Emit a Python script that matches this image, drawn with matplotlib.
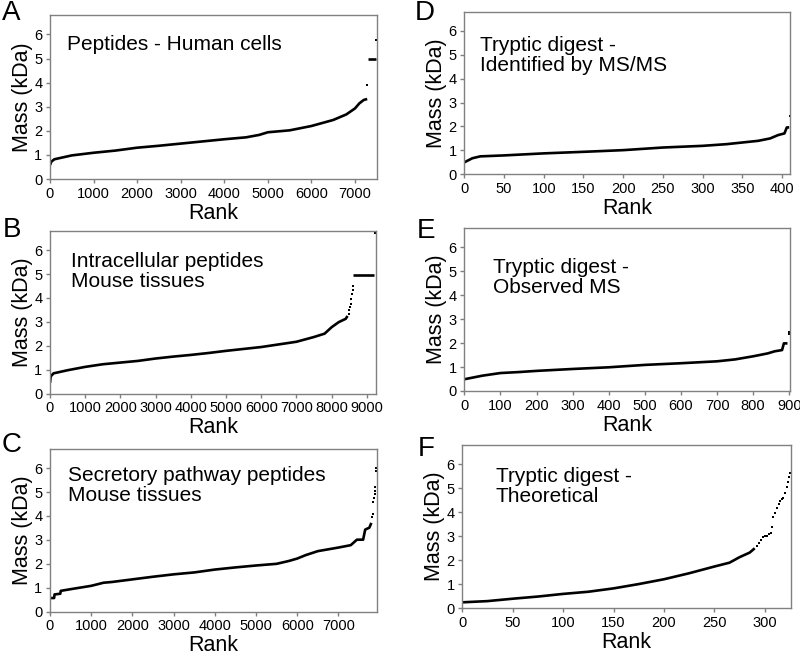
import matplotlib
matplotlib.use('Agg')
import matplotlib.pyplot as plt
import numpy as np

plt.rcParams['font.family'] = ['Liberation Sans', 'DejaVu Sans']

# --- data (rank, mass in kDa) ---
# A: Peptides - Human cells
a_rank = [0, 30, 100, 500, 1000, 1500, 2000, 2500, 3000, 3500, 4000, 4500, 4800, 5000,
          5500, 6000, 6500, 6800, 7000, 7100, 7200, 7280]
a_mass = [0.58, 0.72, 0.82, 0.98, 1.09, 1.18, 1.30, 1.38, 1.47, 1.56, 1.65, 1.73, 1.83, 1.94,
          2.02, 2.20, 2.45, 2.68, 2.93, 3.14, 3.28, 3.32]
a_top_rank = [7300, 7490]
a_top_mass = [4.98, 4.98]
a_pts_rank = [7285, 7480]
a_pts_mass = [3.90, 5.77]

# B: Intracellular peptides, mouse tissues
b_rank = [0, 20, 100, 500, 1000, 1500, 2000, 2500, 3000, 3500, 4000, 4500, 5000, 5500,
          6000, 6500, 7000, 7500, 7800, 8000, 8200, 8400, 8450]
b_mass = [0.45, 0.72, 0.85, 0.98, 1.12, 1.23, 1.30, 1.37, 1.47, 1.55, 1.62, 1.70, 1.79, 1.87,
          1.95, 2.06, 2.17, 2.37, 2.51, 2.78, 2.99, 3.13, 3.25]
b_top_rank = [8620, 9200]
b_top_mass = [4.95, 4.95]
b_pts_rank = [8480, 8500, 8520, 8540, 8560, 8580, 8600, 8610, 9230]
b_pts_mass = [3.35, 3.48, 3.62, 3.75, 3.95, 4.15, 4.35, 4.50, 6.73]

# C: Secretory pathway peptides, mouse tissues
c_rank = [0, 100, 110, 250, 260, 500, 1000, 1300, 1500, 2000, 2500, 3000, 3500, 4000,
          4500, 5000, 5500, 5800, 6000, 6200, 6500, 7000, 7300, 7450, 7600, 7650, 7750, 7800]
c_mass = [0.57, 0.57, 0.72, 0.75, 0.87, 0.94, 1.08, 1.21, 1.24, 1.35, 1.46, 1.56, 1.64, 1.76,
          1.85, 1.93, 2.00, 2.12, 2.22, 2.36, 2.53, 2.68, 2.78, 3.01, 3.01, 3.43, 3.51, 3.71]
c_pts_rank = [7820, 7830, 7850, 7860, 7880, 7890, 7900, 7915, 7920]
c_mass_pts = [3.95, 4.10, 4.60, 4.75, 4.90, 5.05, 5.20, 5.90, 6.00]

# D: Tryptic digest - identified by MS/MS
d_rank = [0, 10, 20, 50, 100, 150, 200, 250, 300, 330, 350, 370, 385, 395, 403, 406, 409]
d_mass = [0.50, 0.67, 0.75, 0.79, 0.875, 0.94, 1.01, 1.12, 1.19, 1.26, 1.33, 1.40, 1.50, 1.64,
          1.71, 1.96, 1.96]
d_pts_rank = [410]
d_pts_mass = [2.43]

# E: Tryptic digest - observed MS
e_rank = [0, 50, 100, 150, 200, 300, 400, 500, 600, 700, 750, 800, 840, 860, 880, 885, 895]
e_mass = [0.49, 0.64, 0.75, 0.79, 0.84, 0.92, 0.99, 1.09, 1.16, 1.24, 1.32, 1.45, 1.57, 1.66,
          1.71, 1.99, 1.99]
e_pts_rank = [899, 900]
e_pts_mass = [2.40, 2.48]

# F: Tryptic digest - theoretical
f_rank = [0, 25, 50, 75, 100, 125, 150, 175, 200, 225, 250, 265, 275, 285, 290]
f_mass = [0.25, 0.30, 0.40, 0.49, 0.60, 0.69, 0.83, 1.01, 1.21, 1.46, 1.74, 1.90, 2.13, 2.32, 2.50]
f_pts_rank = [292, 294, 296, 298, 300, 302, 304, 306, 307, 308, 310, 312, 314, 315, 317, 318,
              320, 322, 323, 324, 325]
f_pts_mass = [2.60, 2.70, 2.85, 2.95, 2.99, 3.03, 3.08, 3.15, 3.38, 3.79, 3.95, 4.17, 4.35, 4.47,
              4.55, 4.61, 4.80, 5.07, 5.25, 5.45, 5.63]

GRAY = '#808080'


def setup(ax, xmax, xticks, label_lines, tx, ty):
    ax.set_xlim(0, xmax)
    ax.set_ylim(0, 6.8)
    ax.set_xticks(xticks)
    ax.set_yticks(range(7))
    for s in ax.spines.values():
        s.set_color(GRAY)
        s.set_linewidth(1.0)
    ax.tick_params(direction='out', length=3, width=1, color=GRAY, labelsize=10.5, pad=2.5)
    ax.set_xlabel('Rank', fontsize=15.5, labelpad=1.5)
    ax.set_ylabel('Mass (kDa)', fontsize=15.5, labelpad=1)
    ax.text(tx, ty, label_lines, transform=ax.transAxes, fontsize=15,
            va='baseline', ha='left', linespacing=1.07)


def dots(ax, x, y):
    ax.plot(x, y, 's', color='black', ms=1.7, mew=0)


def curve(ax, x, y):
    ax.plot(x, y, 'k-', lw=1.9, solid_capstyle='butt')


fig = plt.figure(figsize=(8, 6.57), dpi=100)

axA = fig.add_axes([0.0625, 0.7275, 0.4085, 0.2495])
curve(axA, a_rank, a_mass)
curve(axA, a_top_rank, a_top_mass)
dots(axA, a_pts_rank, a_pts_mass)
setup(axA, 7500, range(0, 7001, 1000), 'Peptides - Human cells', 0.051, 0.787)

axB = fig.add_axes([0.0625, 0.4008, 0.4071, 0.2476])
curve(axB, b_rank, b_mass)
curve(axB, b_top_rank, b_top_mass)
dots(axB, b_pts_rank, b_pts_mass)
setup(axB, 9250, range(0, 9001, 1000), 'Intracellular peptides\nMouse tissues', 0.064, 0.658)

axC = fig.add_axes([0.0625, 0.069, 0.4084, 0.2476])
curve(axC, c_rank, c_mass)
dots(axC, c_pts_rank, c_mass_pts)
setup(axC, 7930, range(0, 7001, 1000), 'Secretory pathway peptides\nMouse tissues', 0.056, 0.683)

axD = fig.add_axes([0.5804, 0.7347, 0.4071, 0.2475])
curve(axD, d_rank, d_mass)
dots(axD, d_pts_rank, d_pts_mass)
setup(axD, 410, range(0, 401, 50), 'Tryptic digest -\nIdentified by MS/MS', 0.048, 0.636)

axE = fig.add_axes([0.5804, 0.4049, 0.4071, 0.2476])
curve(axE, e_rank, e_mass)
dots(axE, e_pts_rank, e_pts_mass)
setup(axE, 902, range(0, 901, 100), 'Tryptic digest -\nObserved MS', 0.089, 0.600)

axF = fig.add_axes([0.5779, 0.0741, 0.4105, 0.2486])
curve(axF, f_rank, f_mass)
dots(axF, f_pts_rank, f_pts_mass)
setup(axF, 325.7, range(0, 301, 50), 'Tryptic digest -\nTheoretical', 0.102, 0.653)

# panel letters
for letter, x, y in [('A', 2, 20), ('B', 3, 237), ('C', 2, 452),
                     ('D', 415, 20), ('E', 417, 238), ('F', 418, 456)]:
    fig.text(x / 800, 1 - y / 657, letter, fontsize=20, va='baseline', ha='left')

fig.savefig('out.png', dpi=100)
